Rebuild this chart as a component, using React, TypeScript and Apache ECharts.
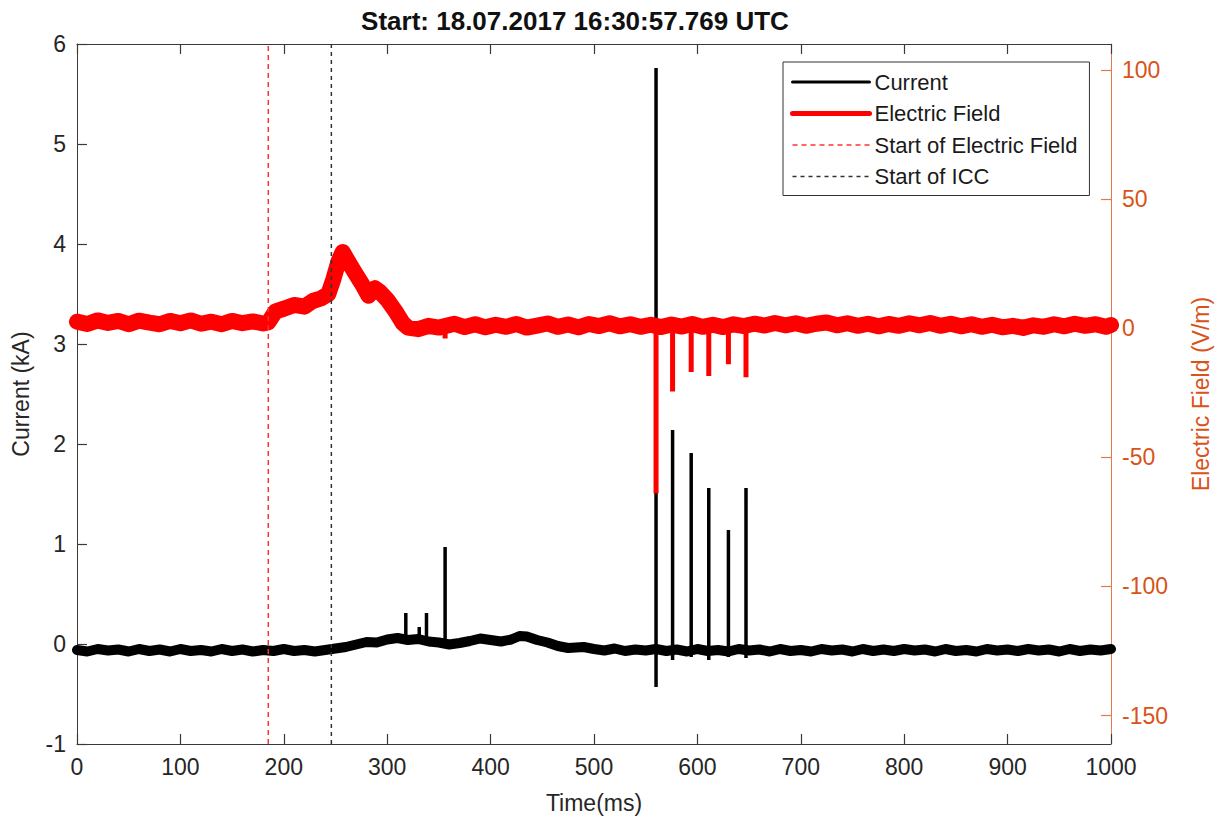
import React, { useEffect, useRef } from "react";
import * as echarts from "echarts";

// ---- data ----
const titleText = "Start: 18.07.2017 16:30:57.769 UTC";
const xTicks = [0, 100, 200, 300, 400, 500, 600, 700, 800, 900, 1000];
const currentTicks = [-1, 0, 1, 2, 3, 4, 5, 6];
const fieldTicks = [-150, -100, -50, 0, 50, 100];

// Current band (time ms, kA)
const currentTime = [0, 10, 20, 30, 40, 50, 60, 70, 80, 90, 100, 110, 120, 130, 140, 150, 160, 170, 180, 190, 200, 210, 220, 230, 240, 250, 260, 270, 280, 290, 300, 310, 320, 330, 340, 350, 360, 370, 380, 390, 400, 410, 420, 428, 435, 445, 455, 465, 475, 490, 500, 510, 520, 530, 540, 550, 560, 570, 580, 590, 600, 610, 620, 630, 640, 650, 660, 670, 680, 690, 700, 710, 720, 730, 740, 750, 760, 770, 780, 790, 800, 810, 820, 830, 840, 850, 860, 870, 880, 890, 900, 910, 920, 930, 940, 950, 960, 970, 980, 990, 1000];
const currentValue = [-0.06, -0.075, -0.05, -0.065, -0.055, -0.075, -0.05, -0.07, -0.055, -0.075, -0.05, -0.07, -0.06, -0.075, -0.05, -0.07, -0.055, -0.075, -0.06, -0.07, -0.05, -0.07, -0.06, -0.075, -0.06, -0.045, -0.03, -0.005, 0.02, 0.015, 0.045, 0.06, 0.04, 0.05, 0.025, 0.015, -0.005, 0.01, 0.03, 0.055, 0.04, 0.025, 0.045, 0.08, 0.075, 0.04, 0.015, -0.02, -0.04, -0.03, -0.05, -0.065, -0.045, -0.07, -0.055, -0.065, -0.05, -0.07, -0.055, -0.075, -0.05, -0.07, -0.06, -0.075, -0.05, -0.065, -0.055, -0.075, -0.05, -0.07, -0.06, -0.075, -0.05, -0.065, -0.055, -0.075, -0.05, -0.07, -0.055, -0.07, -0.05, -0.065, -0.055, -0.075, -0.05, -0.07, -0.06, -0.075, -0.05, -0.065, -0.055, -0.07, -0.05, -0.065, -0.055, -0.075, -0.05, -0.07, -0.055, -0.065, -0.05];

// Current spikes: time, base, peak, trough
const currentSpikeTime = [318, 331, 338, 356, 560, 576, 594, 611, 630, 647];
const currentSpikeBase = [0.04, 0.05, 0.04, 0.01, -0.05, -0.06, -0.06, -0.06, -0.065, -0.05];
const currentSpikePeak = [0.31, 0.17, 0.31, 0.97, 5.76, 2.14, 1.91, 1.56, 1.14, 1.56];
const currentSpikeTrough = [0.04, 0.05, 0.04, 0.01, -0.43, -0.16, -0.13, -0.16, -0.13, -0.14];

// Electric field band (time ms, V/m)
const fieldTime = [0, 10, 20, 30, 40, 50, 60, 70, 80, 90, 100, 110, 120, 130, 140, 150, 160, 170, 180, 185, 192, 200, 210, 220, 228, 236, 243, 248, 253, 257, 262, 268, 275, 282, 288, 293, 300, 308, 315, 320, 330, 340, 350, 365, 375, 385, 395, 405, 415, 425, 435, 445, 455, 465, 475, 485, 495, 505, 515, 525, 535, 545, 555, 565, 575, 585, 595, 605, 615, 625, 635, 645, 655, 665, 675, 685, 695, 705, 715, 725, 735, 745, 755, 765, 775, 785, 795, 805, 815, 825, 835, 845, 855, 865, 875, 885, 895, 905, 915, 925, 935, 945, 955, 965, 975, 985, 995, 1000];
const fieldValue = [2.5, 1.6, 3.0, 2.0, 2.8, 1.5, 2.9, 2.1, 1.5, 2.8, 1.9, 3.0, 1.7, 2.5, 1.5, 2.8, 1.9, 2.6, 1.8, 2.2, 6.5, 7.5, 9.0, 8.3, 10.5, 11.5, 13.2, 19.0, 26.0, 29.5, 26.0, 22.0, 17.5, 12.5, 15.5, 14.0, 11.0, 6.5, 2.0, 0.2, -0.4, 0.9, 0.2, 1.7, 0.4, 1.5, 0.3, 1.3, 0.5, 1.6, 0.2, 1.0, 1.8, 0.5, 1.4, 0.3, 1.6, 0.8, 1.9, 0.7, 1.5, 0.5, 1.3, 0.4, 1.4, 0.6, 1.6, 0.5, 1.3, 0.4, 1.5, 0.8, 1.7, 1.0, 2.0, 1.1, 1.9, 0.9, 1.7, 2.2, 1.1, 1.9, 0.9, 1.7, 0.7, 1.6, 0.9, 1.9, 1.1, 2.0, 0.9, 1.7, 0.7, 1.5, 0.5, 1.3, 0.3, 0.9, 0.1, 1.1, 0.5, 1.5, 0.7, 1.7, 0.9, 1.5, 0.5, 1.2];

// Electric field spikes: time, base, depth
const fieldSpikeTime = [356, 560, 576, 594, 611, 630, 647];
const fieldSpikeBase = [1.0, 1.0, 1.0, 1.0, 1.0, 1.0, 1.0];
const fieldSpikeDepth = [-4, -64, -24.5, -17, -18.5, -14, -19];

// Start markers (ms)
const startFieldTime = 185;
const startIccTime = 246;

const FONT = "'Liberation Sans', Arial, Helvetica, sans-serif";
const AXIS_GREY = "#3a3a3a";
const ORANGE = "#D95319";

function buildSpikes(t: number[], base: number[], a: number[], b?: number[]) {
  const out: any[] = [];
  t.forEach((x, i) => {
    out.push([x, base[i]]);
    out.push([x, a[i]]);
    if (b) out.push([x, b[i]]);
    out.push([x, base[i]]);
    out.push([x, "-"]);
  });
  return out;
}

export default function App() {
  const ref = useRef<HTMLDivElement>(null);
  useEffect(() => {
    if (!ref.current) return;
    const chart = echarts.init(ref.current, undefined, { renderer: "svg" });
    const xBase = {
      type: "value" as const,
      min: 0,
      max: 1000,
      interval: 100,
    };
    const hidden = { opacity: 0 };
    const option: any = {
      animation: false,
      backgroundColor: "#fff",
      title: {
        text: titleText,
        left: 575,
        textAlign: "center",
        top: 8,
        padding: 0,
        textStyle: { fontSize: 26, fontWeight: "bold", color: "#111", fontFamily: FONT },
      },
      grid: { left: 77, right: 116, top: 44, bottom: 75, containLabel: false },
      legend: {
        orient: "vertical",
        left: 783,
        top: 62,
        padding: [9, 12, 8, 7],
        borderColor: "#333",
        borderWidth: 1,
        backgroundColor: "#fff",
        itemWidth: 77,
        itemHeight: 14,
        itemGap: 9.5,
        selectedMode: false,
        itemStyle: hidden,
        textStyle: { fontSize: 22, lineHeight: 22, color: "#1a1a1a", fontFamily: FONT },
        data: [
          { name: "Current", itemStyle: hidden, lineStyle: { width: 3, color: "#000" } },
          { name: "Electric Field", itemStyle: hidden, lineStyle: { width: 5, color: "#ff0000" } },
          { name: "Start of Electric Field", itemStyle: hidden, lineStyle: { width: 1.5, color: "#ff3030", type: [5, 4] } },
          { name: "Start of ICC", itemStyle: hidden, lineStyle: { width: 1.5, color: "#333", type: [4, 4] } },
        ],
      },
      xAxis: [
        {
          ...xBase,
          position: "bottom",
          name: "Time(ms)",
          nameLocation: "middle",
          nameGap: 47,
          nameTextStyle: { fontSize: 23, color: "#262626", fontFamily: FONT },
          axisLine: { show: true, onZero: false, lineStyle: { color: AXIS_GREY, width: 1 } },
          axisTick: { show: true, inside: true, length: 10, lineStyle: { color: AXIS_GREY, width: 1.2 } },
          axisLabel: {
            fontSize: 23,
            color: "#262626",
            fontFamily: FONT,
            margin: 11,
            formatter: (v: number) => String(v),
          },
          splitLine: { show: false },
        },
        {
          ...xBase,
          position: "top",
          axisLine: { show: true, onZero: false, lineStyle: { color: AXIS_GREY, width: 1 } },
          axisTick: { show: true, inside: true, length: 10, lineStyle: { color: AXIS_GREY, width: 1.2 } },
          axisLabel: { show: false },
          splitLine: { show: false },
        },
      ],
      yAxis: [
        {
          type: "value",
          position: "left",
          min: -1,
          max: 6,
          interval: 1,
          name: "Current (kA)",
          nameLocation: "middle",
          nameGap: 45,
          nameTextStyle: { fontSize: 23, color: "#262626", fontFamily: FONT },
          axisLine: { show: true, onZero: false, lineStyle: { color: AXIS_GREY, width: 1 } },
          axisTick: { show: true, inside: true, length: 10, lineStyle: { color: AXIS_GREY, width: 1.2 } },
          axisLabel: {
            fontSize: 23,
            color: "#262626",
            fontFamily: FONT,
            margin: 11,
            formatter: (v: number) => String(v),
          },
          splitLine: { show: false },
        },
        {
          type: "value",
          position: "right",
          min: -161,
          max: 110,
          name: "Electric Field (V/m)",
          nameLocation: "middle",
          nameGap: 78,
          nameTextStyle: { fontSize: 23, color: ORANGE, fontFamily: FONT },
          axisLine: { show: true, onZero: false, lineStyle: { color: "#E27A4E", width: 1 } },
          axisTick: {
            show: true,
            inside: true,
            length: 10,
            lineStyle: { color: "#E27A4E", width: 1.2 },
            customValues: fieldTicks,
          },
          axisLabel: {
            fontSize: 23,
            color: ORANGE,
            fontFamily: FONT,
            margin: 11,
            customValues: fieldTicks,
            formatter: (v: number) => String(v),
          },
          splitLine: { show: false },
        },
      ],
      series: [
        {
          name: "Current",
          type: "line",
          xAxisIndex: 0,
          yAxisIndex: 0,
          symbol: "none",
          lineStyle: { color: "#000", width: 10, join: "round", cap: "round" },
          itemStyle: { color: "#000" },
          data: currentTime.map((t, i) => [t, currentValue[i]]),
          z: 2,
        },
        {
          name: "Current",
          type: "line",
          xAxisIndex: 0,
          yAxisIndex: 0,
          symbol: "none",
          connectNulls: false,
          lineStyle: { color: "#000", width: 3.5, cap: "butt" },
          itemStyle: { color: "#000" },
          data: buildSpikes(currentSpikeTime, currentSpikeBase, currentSpikePeak, currentSpikeTrough),
          z: 2,
        },
        {
          name: "Electric Field",
          type: "line",
          xAxisIndex: 1,
          yAxisIndex: 1,
          symbol: "none",
          lineStyle: { color: "#ff0000", width: 16, join: "round", cap: "round" },
          itemStyle: { color: "#ff0000" },
          data: fieldTime.map((t, i) => [t, fieldValue[i]]),
          z: 3,
        },
        {
          name: "Electric Field",
          type: "line",
          xAxisIndex: 1,
          yAxisIndex: 1,
          symbol: "none",
          connectNulls: false,
          lineStyle: { color: "#ff0000", width: 5, cap: "butt" },
          itemStyle: { color: "#ff0000" },
          data: buildSpikes(fieldSpikeTime, fieldSpikeBase, fieldSpikeDepth),
          z: 3,
        },
        {
          name: "Start of Electric Field",
          type: "line",
          xAxisIndex: 0,
          yAxisIndex: 0,
          symbol: "none",
          lineStyle: { color: "#ff3030", width: 1.5, type: [5, 4] },
          itemStyle: { color: "#ff3030" },
          data: [
            [startFieldTime, -1],
            [startFieldTime, 6],
          ],
          z: 4,
        },
        {
          name: "Start of ICC",
          type: "line",
          xAxisIndex: 0,
          yAxisIndex: 0,
          symbol: "none",
          lineStyle: { color: "#333", width: 1.5, type: [4, 4] },
          itemStyle: { color: "#333" },
          data: [
            [startIccTime, -1],
            [startIccTime, 6],
          ],
          z: 4,
        },
      ],
    };
    chart.setOption(option);
    return () => chart.dispose();
  }, []);
  return (
    <div
      ref={ref}
      style={{ position: "fixed", left: 0, top: 0, width: 1227, height: 819, background: "#fff" }}
    />
  );
}
